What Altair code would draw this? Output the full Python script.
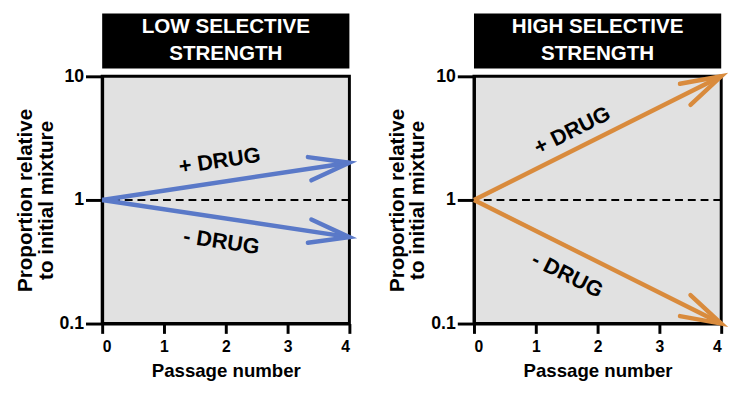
import math
import altair as alt
import pandas as pd

# ---- data ----
passage = [0, 4]
series = ["+ DRUG", "- DRUG"]
low_values = {"+ DRUG": [1.0, 2.0], "- DRUG": [1.0, 0.5]}
high_values = {"+ DRUG": [1.0, 10.0], "- DRUG": [1.0, 0.1]}
low_label_x = [1.9, 1.93]
low_label_y = [2.07, 0.46]
high_label_x = [1.59, 1.51]
high_label_y = [3.64, 0.247]
panel_titles = ["LOW SELECTIVE\nSTRENGTH", "HIGH SELECTIVE\nSTRENGTH"]
panel_colors = ["#5a79c8", "#d98b3d"]
x_ticks = [0, 1, 2, 3, 4]
y_ticks = [0.1, 1, 10]
baseline = [1]

W, H = 252, 252
FONT = "Liberation Sans"

# arrowhead glyph: radius R px; tip sits D px ahead of glyph centre so the
# glyph's bounds stay inside the plot area
R = 14.0
D = 24.0
HEAD_LEN, HEAD_HALF_W = 41.0, 12.0
tip = D / R
tail = (D - HEAD_LEN) / R
hw = HEAD_HALF_W / R
HEAD_PATH = f"M{tail:.3f},{-hw:.3f}L{tip:.3f},0L{tail:.3f},{hw:.3f}"


def screen_angle(x0, y0, x1, y1):
    dx = (x1 - x0) / 4 * W
    dy = -(math.log10(y1) - math.log10(y0)) / 2 * H
    return math.degrees(math.atan2(dy, dx)) % 360


def enc_x():
    return alt.X(
        "passage:Q",
        scale=alt.Scale(domain=[0, 4], nice=False, zero=False),
        axis=alt.Axis(values=x_ticks, title="Passage number", tickSize=10,
                      labelPadding=5, labelFontSize=16, titleFontSize=19,
                      titlePadding=8, format="d"),
    )


def enc_y():
    return alt.Y(
        "value:Q",
        scale=alt.Scale(type="log", domain=[0.1, 10], nice=False),
        axis=alt.Axis(values=y_ticks, format="~g",
                      title=["Proportion relative", "to initial mixture"],
                      tickSize=17, labelPadding=2, labelFontSize=18,
                      titleFontSize=21, titleLineHeight=21, titlePadding=3),
    )


def panel(values, lab_x, lab_y, title, color):
    line_rows, head_rows, text_rows = [], [], []
    for i, s in enumerate(series):
        v = values[s]
        for p, val in zip(passage, v):
            line_rows.append({"series": s, "passage": p, "value": val})
        ang = screen_angle(passage[0], v[0], passage[1], v[1])
        ux, uy = math.cos(math.radians(ang)), math.sin(math.radians(ang))
        cx = passage[1] - D * ux / (W / 4)
        cy = 10 ** (math.log10(v[1]) + D * uy / (H / 2))
        head_rows.append({"series": s, "passage": cx, "value": cy, "angle": ang})
        text_rows.append({"series": s, "passage": lab_x[i], "value": lab_y[i], "angle": ang})

    rule = alt.Chart(pd.DataFrame({"value": baseline})).mark_rule(
        color="black", strokeWidth=2, strokeDash=[8, 5]
    ).encode(y=enc_y())

    lines = alt.Chart(pd.DataFrame(line_rows)).mark_line(
        color=color, strokeWidth=4.5, strokeCap="butt"
    ).encode(x=enc_x(), y=enc_y(), detail="series:N")

    heads = alt.Chart(pd.DataFrame(head_rows)).mark_point(
        shape=HEAD_PATH, size=(2 * R) ** 2, filled=False,
        opacity=1, color=color, strokeWidth=4.5, strokeCap="round",
        strokeJoin="miter"
    ).encode(x=enc_x(), y=enc_y(), angle=alt.Angle("angle:Q", scale=None))

    labels = alt.Chart(pd.DataFrame(text_rows)).mark_text(
        font=FONT, fontSize=22, fontWeight="bold", color="black",
        align="center", baseline="middle"
    ).encode(x=enc_x(), y=enc_y(), text="series:N",
             angle=alt.Angle("angle:Q", scale=None))

    head_df = pd.DataFrame({"title": [title]})
    box = alt.Chart(head_df).mark_rect(color="black").encode(
        x=alt.value(0), x2=alt.value(W), y=alt.value(-64), y2=alt.value(-8)
    )
    box_text = alt.Chart(head_df).mark_text(
        font=FONT, fontSize=21, fontWeight="bold", color="white",
        align="center", baseline="top", lineBreak="\n", lineHeight=27
    ).encode(x=alt.value(W / 2), y=alt.value(-61), text="title:N")

    return alt.layer(rule, lines, heads, labels, box, box_text).properties(
        width=W, height=H
    )


left = panel(low_values, low_label_x, low_label_y, panel_titles[0], panel_colors[0])
right = panel(high_values, high_label_x, high_label_y, panel_titles[1], panel_colors[1])

chart = alt.hconcat(left, right, spacing=25).properties(
    padding={"left": 5, "top": 0, "right": 0, "bottom": 0},
    background="white",
).configure_view(
    stroke="black", strokeWidth=3, fill="#e1e1e1"
).configure_axis(
    grid=False, domainColor="black", domainWidth=3, tickColor="black",
    tickWidth=3, labelFont=FONT, labelFontWeight="bold", labelColor="black",
    titleFont=FONT, titleFontWeight="bold", titleColor="black"
)

chart.save("out.html", embed_options={"renderer": "svg", "actions": False})
